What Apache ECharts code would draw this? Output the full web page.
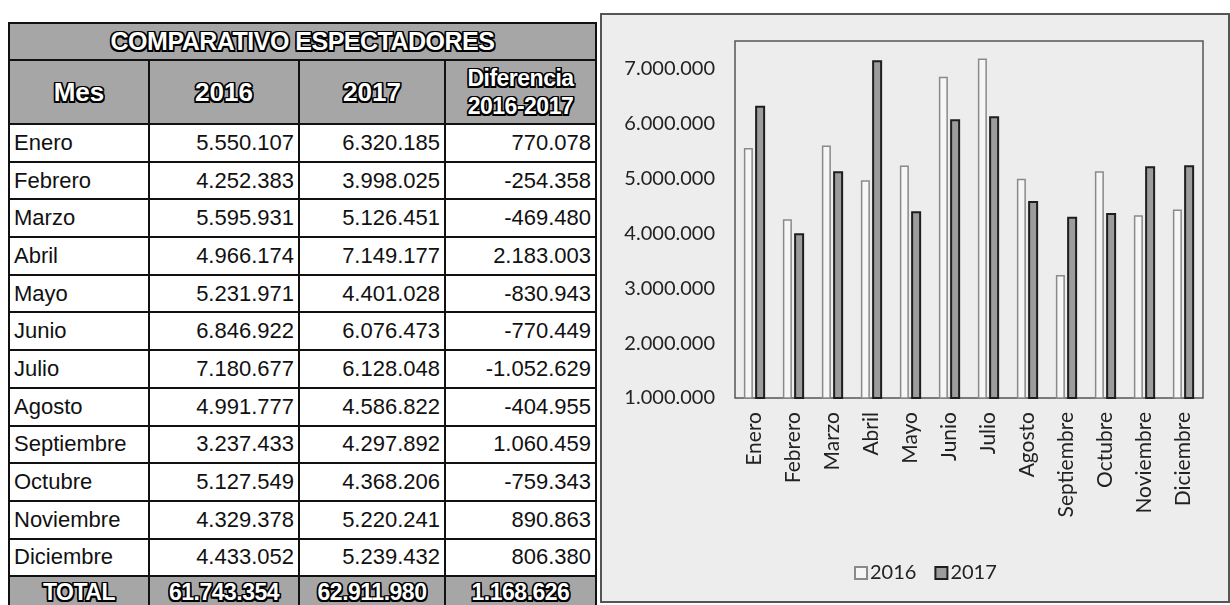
<!DOCTYPE html>
<html>
<head>
<meta charset="utf-8">
<script src="https://cdn.jsdelivr.net/npm/echarts@6/dist/echarts.min.js"></script>
<style>
  html, body { margin: 0; padding: 0; background: #fff; width: 1230px; height: 605px; overflow: hidden; }
  #tabla {
    position: absolute; left: 8px; top: 22px; width: 587px;
    border-collapse: collapse; table-layout: fixed;
    font-family: "Liberation Sans", Arial, sans-serif; font-size: 22px; color: #111;
  }
  #tabla td, #tabla th { border: 2px solid #111; padding: 0 4px; white-space: nowrap; overflow: hidden; }
  #tabla td { height: 35.7px; background: #fff; }
  #tabla td.num { text-align: right; }
  #tabla .gris {
    background: #a6a6a6; color: #fff; font-weight: bold; text-align: center;
    text-shadow: -1.5px -1.5px 0 #000, 1.5px -1.5px 0 #000, -1.5px 1.5px 0 #000, 1.5px 1.5px 0 #000,
                 0 -1.5px 0 #000, 0 1.5px 0 #000, -1.5px 0 0 #000, 1.5px 0 0 #000;
  }
  #tabla tr.titulo th { height: 35px; font-size: 25px; letter-spacing: -0.5px; }
  #tabla tr.cab th { height: 62px; font-size: 26px; line-height: 28px; }
  #tabla tr.cab th.dif { font-size: 23px; letter-spacing: -0.5px; }
  #tabla tr.total td { height: 30px; font-size: 23px; letter-spacing: -0.5px; }
  #main {
    position: absolute; left: 600px; top: 13px; width: 630px; height: 590px;
    background: #ededed; box-sizing: border-box; border: 2px solid #555;
  }
</style>
</head>
<body>
<table id="tabla"></table>
<div id="main"></div>
<script>
// datos
var meses = ['Enero', 'Febrero', 'Marzo', 'Abril', 'Mayo', 'Junio', 'Julio', 'Agosto', 'Septiembre', 'Octubre', 'Noviembre', 'Diciembre'];
var v2016 = [5550107, 4252383, 5595931, 4966174, 5231971, 6846922, 7180677, 4991777, 3237433, 5127549, 4329378, 4433052];
var v2017 = [6320185, 3998025, 5126451, 7149177, 4401028, 6076473, 6128048, 4586822, 4297892, 4368206, 5220241, 5239432];
var diferencia = [770078, -254358, -469480, 2183003, -830943, -770449, -1052629, -404955, 1060459, -759343, 890863, 806380];
var totales = [61743354, 62911980, 1168626];
var cabeceras = ['Mes', '2016', '2017', 'Diferencia<br>2016-2017'];
var titulo = 'COMPARATIVO ESPECTADORES';

function fmt(n) {
  var s = String(Math.abs(n)).replace(/\B(?=(\d{3})+(?!\d))/g, '.');
  return (n < 0 ? '-' : '') + s;
}

/* tabla */
var html = '<colgroup><col style="width:140px"><col style="width:150px"><col style="width:146px"><col style="width:151px"></colgroup>';
html += '<tr class="titulo"><th class="gris" colspan="4">' + titulo + '</th></tr>';
html += '<tr class="cab">' + cabeceras.map(function (c, i) {
  return '<th class="gris' + (i === 3 ? ' dif' : '') + '">' + c + '</th>';
}).join('') + '</tr>';
for (var i = 0; i < meses.length; i++) {
  html += '<tr><td>' + meses[i] + '</td><td class="num">' + fmt(v2016[i]) + '</td><td class="num">' +
    fmt(v2017[i]) + '</td><td class="num">' + fmt(diferencia[i]) + '</td></tr>';
}
html += '<tr class="total"><td class="gris">TOTAL</td>' + totales.map(function (t) {
  return '<td class="gris">' + fmt(t) + '</td>';
}).join('') + '</tr>';
document.getElementById('tabla').innerHTML = html;

/* grafico */
var myChart = echarts.init(document.getElementById('main'));
myChart.setOption({
  animation: false,
  textStyle: { fontFamily: 'Lato' },
  grid: {
    show: true, left: 133, top: 26, right: 25, bottom: 203,
    borderColor: '#555', borderWidth: 1.5, backgroundColor: 'transparent'
  },
  legend: {
    left: 247, top: 543, itemWidth: 12, itemHeight: 12, itemGap: 18,
    icon: 'rect',
    textStyle: { fontSize: 20, color: '#222', fontFamily: 'Lato', padding: [0, 0, 0, -2] },
    data: ['2016', '2017']
  },
  xAxis: {
    type: 'category',
    data: meses,
    axisLine: { show: false },
    axisTick: { show: false },
    axisLabel: { rotate: 90, margin: 14, fontSize: 21, color: '#222', interval: 0 }
  },
  yAxis: {
    type: 'value',
    min: 1000000, max: 7500000, interval: 1000000,
    splitLine: { show: false },
    axisLine: { show: false },
    axisTick: { show: false },
    axisLabel: {
      fontSize: 20, color: '#222', margin: 20, showMaxLabel: false,
      formatter: function (v) { return fmt(v); }
    }
  },
  series: [
    {
      name: '2016', type: 'bar', data: v2016,
      barWidth: 9, barGap: '25%',
      itemStyle: { color: '#f6f6f6', borderColor: '#8a8a8a', borderWidth: 1.5 }
    },
    {
      name: '2017', type: 'bar', data: v2017,
      barWidth: 10,
      itemStyle: { color: '#9c9c9c', borderColor: '#1e1e1e', borderWidth: 2 }
    }
  ]
});
</script>
</body>
</html>
